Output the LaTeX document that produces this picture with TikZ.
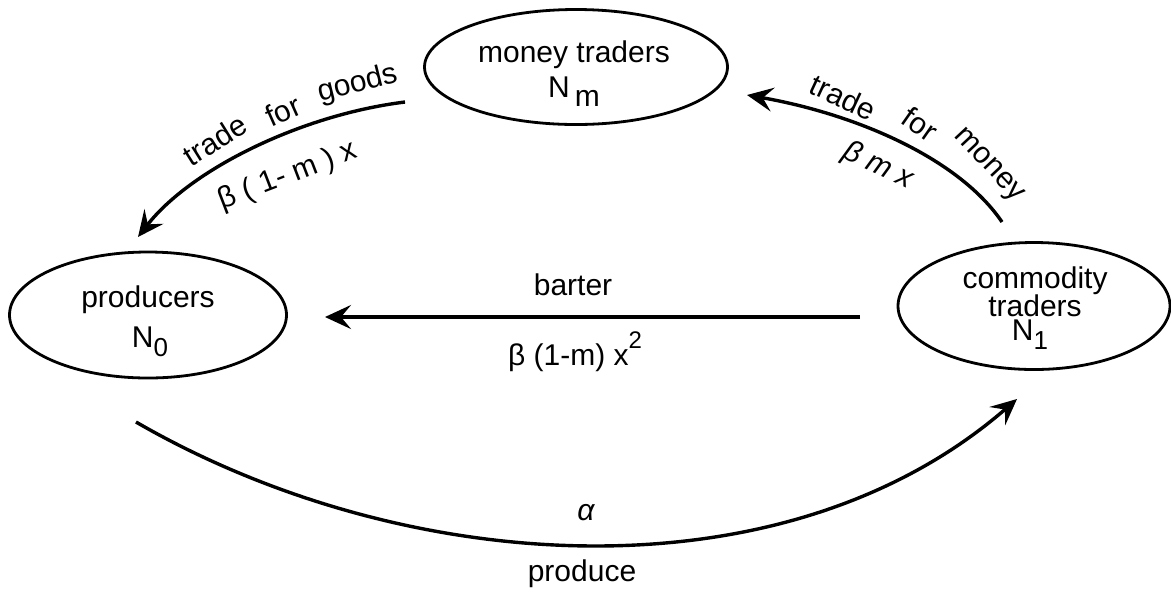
\documentclass[tikz,border=0pt]{standalone}
\usepackage{fontspec}
\setmainfont{Liberation Sans}
\usetikzlibrary{arrows.meta,shapes.geometric}
\begin{document}
\begin{tikzpicture}[x=0.5pt,y=-0.5pt,
  txt/.style={font=\fontsize{15}{18}\selectfont, inner sep=0pt},
  agent/.style={draw, ellipse, line width=1.4pt, inner sep=0pt},
  flow/.style={line width=1.7pt, -{Stealth[length=13pt,width=12pt,inset=5pt]}}]
\useasboundingbox (0,0) rectangle (1171,596);
% agents
\node[agent, minimum width=151.5pt, minimum height=57.5pt] (mt) at (576,67) {};
\node[agent, minimum width=138.5pt, minimum height=63pt] (pr) at (148,315) {};
\node[agent, minimum width=136pt, minimum height=63.5pt] (ct) at (1034,306) {};
\node[txt] (mtl1) at (574,55) {money traders};
\node[txt] (mtl2) at (574,92) {N\,\raisebox{-0.55ex}{m}};
\node[txt] (prl1) at (148,300) {producers};
\node[txt] (prl2) at (150,342) {N\raisebox{-0.55ex}{\fontsize{13}{15}\selectfont 0}};
\node[txt] (ctl1) at (1035,281) {commodity};
\node[txt] (ctl2) at (1035,306) {traders};
\node[txt] (ctl3) at (1030,335) {N\raisebox{-0.55ex}{\fontsize{13}{15}\selectfont 1}};
% connector end points
\coordinate (gs) at (405,102);
\coordinate (ge) at (138,237);
\coordinate (ms) at (1002,222);
\coordinate (me) at (747,95);
\coordinate (bs) at (860,317);
\coordinate (be) at (325,317);
\coordinate (ps) at (136,422);
\coordinate (pe) at (1017,399);
% connectors
\draw[flow] (gs) .. controls (300,115) and (190,170) .. (ge);
\draw[flow] (ms) .. controls (960,160) and (860,115) .. (me);
\draw[flow] (bs) -- (be);
\draw[flow] (ps) .. controls (404,577) and (783,602) .. (pe);
% labels: trade for goods
\node[txt, rotate=32] (g1) at (215,140) {trade};
\node[txt, rotate=24] (g2) at (283,111) {for};
\node[txt, rotate=14] (g3) at (358,84) {goods};
\node[txt, rotate=21] (g4) at (288,176) {β ( 1- m ) x};
% labels: trade for money
\node[txt, rotate=-25] (m1) at (843,97) {trade};
\node[txt, rotate=-35] (m2) at (920,124) {for};
\node[txt, rotate=-47] (m3) at (988,166) {money};
\node[txt, rotate=-25] (m4) at (878,166) {\itshape β m x};
% barter
\node[txt] (b1) at (573,285) {barter};
\node[txt] (b2) at (575,352) {β (1-m) x\raisebox{1.1ex}{\fontsize{12}{14}\selectfont 2}};
% produce
\node[txt] (p1) at (586,513) {\itshape α};
\node[txt] (p2) at (582,574) {produce};
\end{tikzpicture}
\end{document}
